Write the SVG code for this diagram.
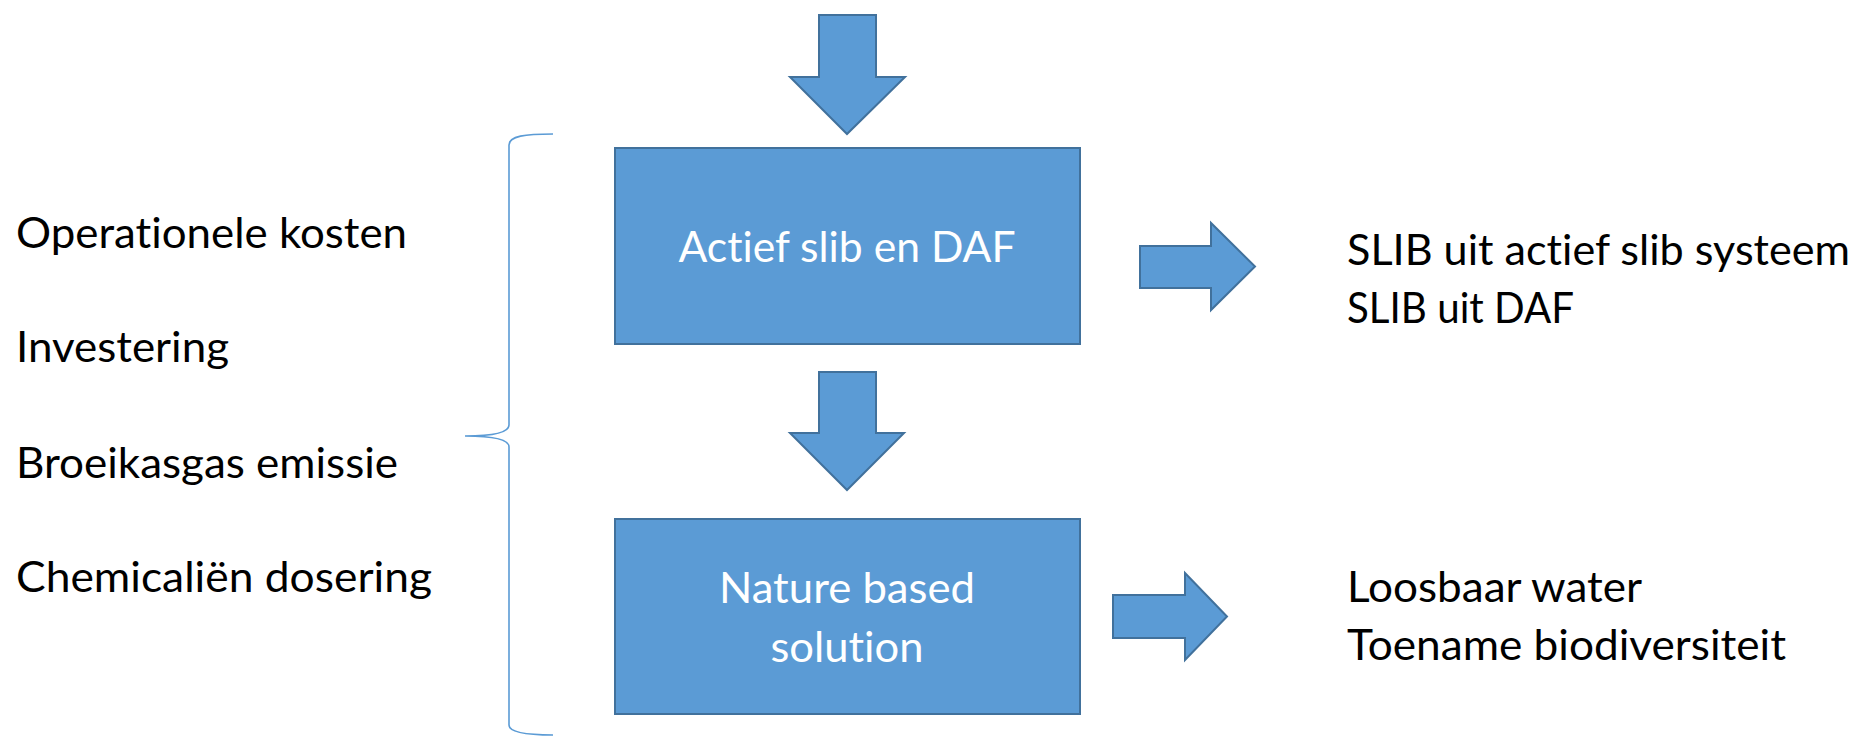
<svg xmlns="http://www.w3.org/2000/svg" width="1859" height="737" viewBox="0 0 1859 737">
<style>
.shape{fill:#5B9BD5;stroke:#41719C;stroke-width:2;stroke-linejoin:miter}
.lbl{font-family:Lato,"Open Sans","Liberation Sans",sans-serif;font-size:42px;fill:#000;font-variant-ligatures:none}
.in{font-family:Lato,"Open Sans","Liberation Sans",sans-serif;font-size:42px;fill:#fff;text-anchor:middle;font-variant-ligatures:none}
.brace{fill:none;stroke:#5B9BD5;stroke-width:1.6}
</style>
<rect width="1859" height="737" fill="#fff"/>
<g id="connectors">
<polygon class="shape" points="819,15 876,15 876,77 905,77 847,134 790,77 819,77"/>
<polygon class="shape" points="819,372 876,372 876,433 904,433 847,490 790,433 819,433"/>
<polygon class="shape" points="1140,246 1211,246 1211,223 1255,266.5 1211,310 1211,288 1140,288"/>
<polygon class="shape" points="1113,595 1185,595 1185,573 1227,616.5 1185,660 1185,638 1113,638"/>
</g>
<g id="node-actief">
<rect class="shape" x="615" y="148" width="465" height="196"/>
<text class="in" x="847" y="262" textLength="337" lengthAdjust="spacingAndGlyphs">Actief slib en DAF</text>
</g>
<g id="node-nature">
<rect class="shape" x="615" y="519" width="465" height="195"/>
<text class="in" x="847" y="603" textLength="256" lengthAdjust="spacingAndGlyphs">Nature based</text>
<text class="in" x="847" y="662" textLength="153" lengthAdjust="spacingAndGlyphs">solution</text>
</g>
<g id="criteria">
<text class="lbl" x="16" y="248" textLength="391" lengthAdjust="spacingAndGlyphs">Operationele kosten</text>
<text class="lbl" x="16" y="362" textLength="213" lengthAdjust="spacingAndGlyphs">Investering</text>
<text class="lbl" x="16" y="478" textLength="382" lengthAdjust="spacingAndGlyphs">Broeikasgas emissie</text>
<text class="lbl" x="16" y="592" textLength="416" lengthAdjust="spacingAndGlyphs">Chemicaliën dosering</text>
</g>
<g id="brace">
<path class="brace" d="M553,134 C525,134 509,136 509,145 L509,425 C509,432 495,436 465,436 C495,436 509,440 509,447 L509,725 C509,732 525,735 553,735"/>
</g>
<g id="output-1">
<text class="lbl" x="1347" y="265" textLength="503" lengthAdjust="spacingAndGlyphs">SLIB uit actief slib systeem</text>
<text class="lbl" x="1347" y="323" textLength="227" lengthAdjust="spacingAndGlyphs">SLIB uit DAF</text>
</g>
<g id="output-2">
<text class="lbl" x="1347" y="602" textLength="295" lengthAdjust="spacingAndGlyphs">Loosbaar water</text>
<text class="lbl" x="1347" y="660" textLength="439" lengthAdjust="spacingAndGlyphs">Toename biodiversiteit</text>
</g>
</svg>
